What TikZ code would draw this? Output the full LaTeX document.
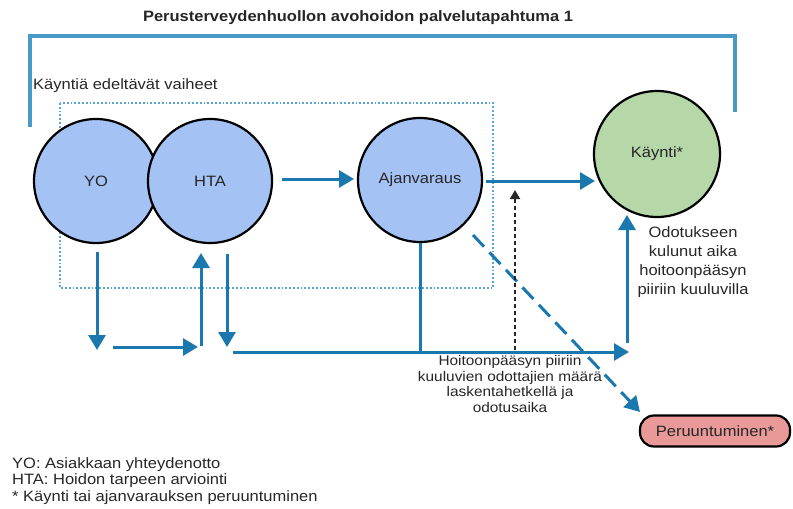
\documentclass[tikz,border=0pt]{standalone}
\usepackage{fontspec}
\setmainfont{Liberation Sans}[FakeStretch=1.1]
\usetikzlibrary{arrows.meta}
\definecolor{arrowblue}{HTML}{1B78AE}
\definecolor{brackblue}{HTML}{4A98C6}
\definecolor{dotblue}{HTML}{5AA5D3}
\definecolor{circblue}{HTML}{A4C2F4}
\definecolor{circgreen}{HTML}{B6D7A8}
\definecolor{cancelred}{HTML}{EA9999}
\definecolor{txt}{HTML}{262626}
\begin{document}
\begin{tikzpicture}[x=1pt,y=-1pt,
  stage/.style={circle,draw=black,line width=2.2pt,fill=circblue,minimum size=124pt,inner sep=0pt,text=txt,font=\fontsize{15}{18}\selectfont},
  flow/.style={draw=arrowblue,line width=3pt,-{Triangle[length=15pt,width=17pt]}},
  flowline/.style={draw=arrowblue,line width=3pt},
  cancelflow/.style={draw=arrowblue,line width=3pt,dash pattern=on 16pt off 8pt,-{Triangle[length=15pt,width=17pt]}},
  countflow/.style={draw=black!85,line width=1.8pt,dash pattern=on 4pt off 3pt,-{Triangle[length=9pt,width=10pt]}},
  bracket/.style={draw=brackblue,line width=3.2pt},
  prebox/.style={draw=dotblue,line width=2.2pt,dash pattern=on 1.8pt off 2pt},
  note/.style={text=txt,align=center,inner sep=0pt},
]
\useasboundingbox (0,0) rectangle (793,509);

% title and bracket
\node[text=txt,font=\bfseries\fontsize{15}{18}\selectfont] (title) at (358,18) {Perusterveydenhuollon avohoidon palvelutapahtuma 1};
\coordinate (bl) at (30,127);
\coordinate (btl) at (30,36);
\coordinate (btr) at (735,36);
\coordinate (br) at (735,112);
\draw[bracket] (bl) -- (btl) -- (btr) -- (br);

% pre-visit box
\node[anchor=west,text=txt,inner sep=0pt,font=\fontsize{15}{18}\selectfont] (pretitle) at (33,86) {Käyntiä edeltävät vaiheet};
\coordinate (boxa) at (60,103);
\coordinate (boxb) at (493,288);
\draw[prebox] (boxa) rectangle (boxb);

% circles
\node[stage] (yo) at (96,181) {\raisebox{-5pt}{YO}};
\node[stage] (hta) at (210,181) {HTA};
\node[stage] (ajan) at (420,180) {Ajanvaraus};
\node[stage,fill=circgreen,minimum size=126pt] (kaynti) at (657,154) {Käynti*};
\node[draw=black,line width=2.2pt,fill=cancelred,rounded corners=14pt,minimum width=150pt,minimum height=31pt,text=txt,font=\fontsize{15}{18}\selectfont] (per) at (715,431) {Peruuntuminen*};

% small loop arrows
\coordinate (a1s) at (97,252);
\coordinate (a1e) at (97,350);
\coordinate (a2s) at (113,347);
\coordinate (a2e) at (198,347);
\coordinate (a3s) at (201,346);
\coordinate (a3e) at (201,253);
\coordinate (a4s) at (227,254);
\coordinate (a4e) at (227,347);
\draw[flow] (a1s) -- (a1e);
\draw[flow] (a2s) -- (a2e);
\draw[flow] (a3s) -- (a3e);
\draw[flow] (a4s) -- (a4e);

% main flow
\coordinate (hs) at (282,179);
\coordinate (he) at (354,179);
\draw[flow] (hs) -- (he);
\coordinate (ks) at (486,181);
\coordinate (ke) at (595,181);
\draw[flow] (ks) -- (ke);

\coordinate (ls) at (233,352);
\coordinate (le) at (629,352);
\draw[flow] (ls) -- (le);
\coordinate (ajd) at (420,352);
\draw[flowline] (ajan.south) -- (ajd);
\coordinate (us) at (627,343);
\coordinate (ue) at (627,215);
\draw[flow] (us) -- (ue);

% cancellation
\coordinate (cs) at (473,235);
\coordinate (ce) at (640,412);
\draw[cancelflow] (cs) -- (ce);

% counting moment
\coordinate (ds) at (515,350);
\coordinate (de) at (515,190);
\draw[countflow] (ds) -- (de);

% notes
\node[note,font=\fontsize{15}{19}\selectfont] (waitnote) at (693,262) {Odotukseen\\kulunut aika\\hoitoonpääsyn\\piiriin kuuluvilla};
\node[note,font=\fontsize{14}{15.7}\selectfont] (countnote) at (510,384) {Hoitoonpääsyn piiriin\\kuuluvien odottajien määrä\\laskentahetkellä ja\\odotusaika};

% legend
\node[anchor=west,text=txt,align=left,inner sep=0pt,font=\fontsize{15}{16.5}\selectfont] (legend) at (12,481) {YO: Asiakkaan yhteydenotto\\HTA: Hoidon tarpeen arviointi\\* Käynti tai ajanvarauksen peruuntuminen};
\end{tikzpicture}
\end{document}
